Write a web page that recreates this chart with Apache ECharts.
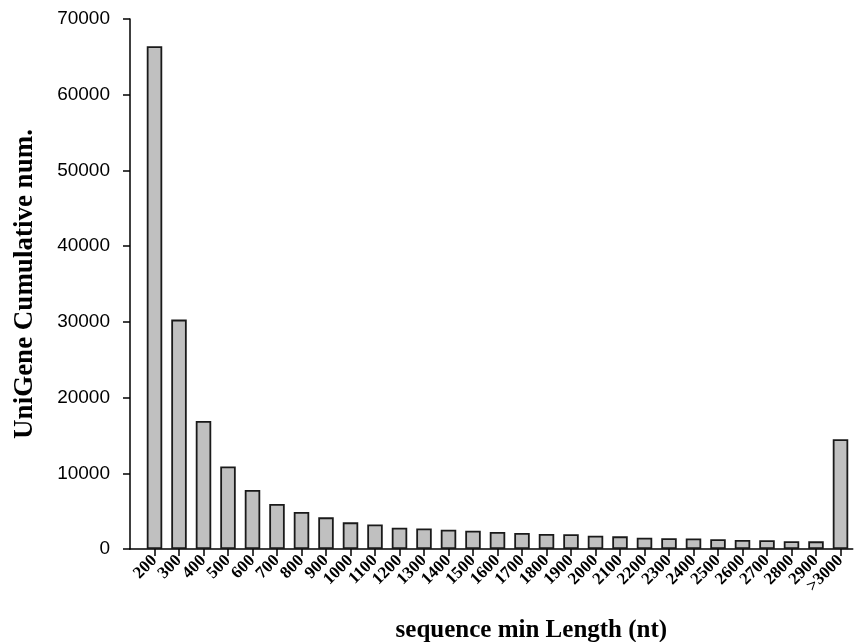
<!DOCTYPE html>
<html>
<head>
<meta charset="utf-8">
<script src="https://cdn.jsdelivr.net/npm/echarts@6/dist/echarts.min.js"></script>
<style>
html,body{margin:0;padding:0;background:#fff;}
#chart{width:854px;height:642px;}
</style>
</head>
<body>
<div id="chart"></div>
<script>
const categories = ['200','300','400','500','600','700','800','900','1000','1100','1200','1300','1400','1500','1600','1700','1800','1900','2000','2100','2200','2300','2400','2500','2600','2700','2800','2900','>3000'];
const counts = [66400,30300,16900,10900,7800,5950,4900,4180,3520,3250,2800,2720,2550,2420,2250,2110,1980,1940,1760,1670,1490,1410,1400,1280,1190,1150,1020,1010,14500];
const yTicks = {min: 0, max: 70000, interval: 10000};
const xTitle = 'sequence min Length (nt)';
const yTitle = 'UniGene Cumulative num.';

const idx = categories.map((c, i) => i);
const chart = echarts.init(document.getElementById('chart'));
chart.setOption({
  animation: false,
  backgroundColor: '#ffffff',
  grid: {left: 130, right: 1.25, top: 19, bottom: 93, containLabel: false, outerBoundsMode: 'none'},
  xAxis: {
    type: 'value',
    min: -1,
    max: 28.5,
    name: xTitle,
    nameLocation: 'middle',
    nameGap: 69,
    nameTextStyle: {fontFamily: 'Liberation Serif', fontWeight: 'bold', fontSize: 25, color: '#000', padding: [0, 0, 0, 80]},
    axisLine: {show: true, onZero: false, lineStyle: {color: '#000', width: 1.5}},
    axisTick: {show: true, customValues: idx, length: 7, lineStyle: {color: '#000', width: 1.5}},
    axisLabel: {
      customValues: idx,
      showMinLabel: true,
      showMaxLabel: true,
      hideOverlap: false,
      rotate: 45,
      margin: 9,
      lineHeight: 12,
      formatter: v => categories[Math.round(v)],
      fontFamily: 'Liberation Serif', fontWeight: 'bold', fontSize: 17, color: '#000'
    },
    splitLine: {show: false}
  },
  yAxis: {
    type: 'value',
    min: yTicks.min,
    max: yTicks.max,
    interval: yTicks.interval,
    name: yTitle,
    nameLocation: 'middle',
    nameRotate: 90,
    nameGap: 91,
    nameTextStyle: {fontFamily: 'Liberation Serif', fontWeight: 'bold', fontSize: 27, color: '#000'},
    axisLine: {show: true, onZero: false, lineStyle: {color: '#000', width: 1.5}},
    axisTick: {show: true, length: 7, lineStyle: {color: '#000', width: 1.5}},
    axisLabel: {margin: 20, formatter: v => String(v), fontFamily: 'Liberation Sans', fontSize: 19, color: '#000'},
    splitLine: {show: false}
  },
  series: [{
    type: 'bar',
    barWidth: 15.5,
    data: counts.map((v, i) => [i, v]),
    itemStyle: {color: '#c0c0c0', borderColor: '#1a1a1a', borderWidth: 1.8}
  }]
});
</script>
</body>
</html>
